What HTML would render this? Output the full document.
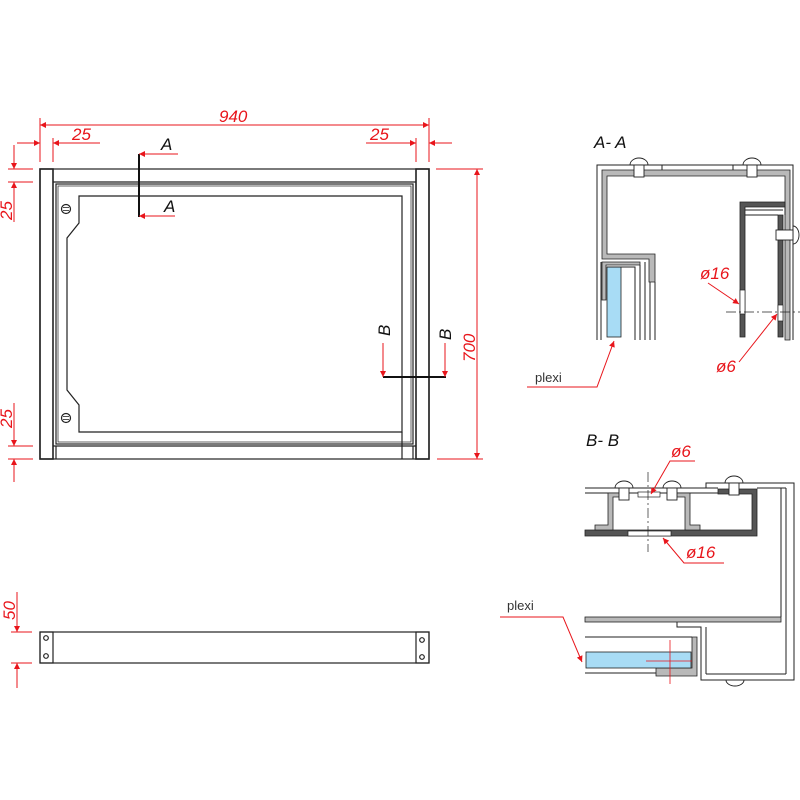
<!DOCTYPE html>
<html><head><meta charset="utf-8"><style>
html,body{margin:0;padding:0;background:#fff;width:800px;height:800px;overflow:hidden}
svg{display:block}
.r{fill:#e8151b;font-family:"Liberation Sans",sans-serif;font-style:italic;font-size:17px}
.k{fill:#111;font-family:"Liberation Sans",sans-serif;font-style:italic;font-size:17px}
</style></head><body>
<svg width="800" height="800" viewBox="0 0 800 800" xmlns="http://www.w3.org/2000/svg">
<defs>
<marker id="ar" viewBox="0 0 10 10" refX="10" refY="5" markerWidth="12" markerHeight="6" orient="auto-start-reverse" markerUnits="userSpaceOnUse"><path d="M0,0 L10,5 L0,10 z" fill="#e8151b"/></marker>
</defs>
<g fill="none" stroke="#222" stroke-width="1.2">
<rect x="40" y="169" width="389" height="290"/>
<rect x="40" y="169" width="13" height="290" stroke-width="1.6"/>
<rect x="416" y="169" width="13" height="290" stroke-width="1.6"/>
<line x1="53" y1="182" x2="416" y2="182"/>
<rect x="56" y="184" width="357" height="260"/>
<rect x="58" y="186" width="353" height="256" stroke-width="0.7"/>
<line x1="53" y1="446" x2="416" y2="446"/>
<line x1="56" y1="446" x2="56" y2="459"/>
<line x1="413" y1="446" x2="413" y2="459"/>
<path d="M79,196 L402,196 L402,432 L79,432 L79,405 L67,390 L67,238 L79,223 Z"/>
<line x1="402" y1="432" x2="402" y2="459"/>
<circle cx="66" cy="209" r="4.5"/><circle cx="66" cy="418" r="4.5"/>
<line x1="63" y1="207.5" x2="69" y2="207.5" stroke-width="0.8"/><line x1="63" y1="210.5" x2="69" y2="210.5" stroke-width="0.8"/>
<line x1="63" y1="416.5" x2="69" y2="416.5" stroke-width="0.8"/><line x1="63" y1="419.5" x2="69" y2="419.5" stroke-width="0.8"/>
</g>
<line x1="139" y1="154" x2="139" y2="217" stroke="#111" stroke-width="2"/>
<line x1="383" y1="377" x2="446" y2="377" stroke="#111" stroke-width="2"/>
<g stroke="#e8151b" stroke-width="1" fill="none">
<line x1="178" y1="154" x2="139" y2="154" marker-end="url(#ar)"/>
<line x1="175" y1="216" x2="139" y2="216" marker-end="url(#ar)"/>
<line x1="383" y1="343" x2="383" y2="377" marker-end="url(#ar)"/>
<line x1="445" y1="343" x2="445" y2="377" marker-end="url(#ar)"/>
<line x1="40" y1="118" x2="40" y2="162"/><line x1="429" y1="118" x2="429" y2="162"/>
<line x1="53" y1="138" x2="53" y2="162"/><line x1="416" y1="138" x2="416" y2="162"/>
<line x1="40" y1="125" x2="429" y2="125" marker-start="url(#ar)" marker-end="url(#ar)"/>
<line x1="17" y1="143" x2="40" y2="143" marker-end="url(#ar)"/>
<line x1="100" y1="143" x2="53" y2="143" marker-end="url(#ar)"/>
<line x1="366" y1="143" x2="416" y2="143" marker-end="url(#ar)"/>
<line x1="452" y1="143" x2="429" y2="143" marker-end="url(#ar)"/>
<line x1="8" y1="169" x2="33" y2="169"/><line x1="8" y1="182" x2="33" y2="182"/>
<line x1="14" y1="145" x2="14" y2="169" marker-end="url(#ar)"/>
<line x1="14" y1="222" x2="14" y2="182" marker-end="url(#ar)"/>
<line x1="8" y1="446" x2="33" y2="446"/><line x1="8" y1="459" x2="33" y2="459"/>
<line x1="14" y1="403" x2="14" y2="446" marker-end="url(#ar)"/>
<line x1="14" y1="482" x2="14" y2="459" marker-end="url(#ar)"/>
<line x1="436" y1="169" x2="483" y2="169"/><line x1="437" y1="459" x2="483" y2="459"/>
<line x1="477" y1="169" x2="477" y2="459" marker-start="url(#ar)" marker-end="url(#ar)"/>
<line x1="11" y1="632" x2="32" y2="632"/><line x1="11" y1="663" x2="32" y2="663"/>
<line x1="17" y1="592" x2="17" y2="632" marker-end="url(#ar)"/>
<line x1="17" y1="688" x2="17" y2="663" marker-end="url(#ar)"/>
</g>
<text class="r" x="219" y="122">940</text>
<text class="r" x="72" y="140">25</text>
<text class="r" x="370" y="140">25</text>
<text class="r" transform="translate(12,220) rotate(-90)">25</text>
<text class="r" transform="translate(12,428) rotate(-90)">25</text>
<text class="r" transform="translate(475,362) rotate(-90)">700</text>
<text class="r" transform="translate(15,620) rotate(-90)">50</text>
<text class="k" x="161" y="150">A</text>
<text class="k" x="164" y="212">A</text>
<text class="k" transform="translate(390,336) rotate(-90)">B</text>
<text class="k" transform="translate(451,340) rotate(-90)">B</text>
<g fill="none" stroke="#222" stroke-width="1.2">
<rect x="40" y="632" width="389" height="31"/>
<rect x="40" y="632" width="13" height="31"/>
<rect x="416" y="632" width="13" height="31"/>
<circle cx="46" cy="638" r="2.3"/><circle cx="46" cy="656" r="2.3"/>
<circle cx="422" cy="640" r="2.3"/><circle cx="422" cy="657" r="2.3"/>
</g>
<text class="k" x="594" y="148">A- A</text>
<g stroke="#222" stroke-width="1" fill="none">
<path d="M597,340 L597,165 L793,165 L793,340"/>
<path d="M601,340 L601,262"/>
</g>
<path d="M602,259 L602,170 L790,170 L790,340 L785,340 L785,176 L607,176 L607,254 L655,254 L655,282 L649,282 L649,259 Z" fill="#b9b9b9" stroke="#222" stroke-width="0.8"/>
<path d="M602,262 L640,262 L640,265 L606,265 L606,300 L602,300 Z" fill="#b9b9b9" stroke="#222" stroke-width="0.8"/>
<rect x="607" y="267" width="14" height="70" fill="#a8dcf5" stroke="#222" stroke-width="0.8"/>
<g stroke="#222" stroke-width="1" fill="none">
<path d="M607,267 L635,267 L635,340"/>
<line x1="640" y1="265" x2="640" y2="340"/><line x1="645" y1="262" x2="645" y2="340"/>
<line x1="650" y1="282" x2="650" y2="340"/><line x1="655" y1="282" x2="655" y2="340"/>
<line x1="662" y1="165" x2="662" y2="170"/><line x1="733" y1="165" x2="733" y2="170"/>
</g>
<path d="M740,337 L740,202 L785,202 L785,207 L745,207 L745,337 Z" fill="#555" stroke="#222" stroke-width="0.8"/>
<path d="M778,337 L778,215 L783,215 L783,337 Z" fill="#555" stroke="#222" stroke-width="0.8"/>
<g stroke="#222" stroke-width="1" fill="none">
<line x1="745" y1="210" x2="783" y2="210"/><line x1="745" y1="215" x2="778" y2="215"/>
<line x1="785" y1="207" x2="785" y2="215"/>
</g>
<rect x="740" y="290" width="5" height="24" fill="#fff" stroke="#222" stroke-width="0.7"/>
<rect x="778" y="305" width="5" height="16" fill="#fff" stroke="#222" stroke-width="0.7"/>
<line x1="726" y1="312" x2="800" y2="312" stroke="#222" stroke-width="0.7" stroke-dasharray="10,3,2,3"/>
<g stroke="#222" stroke-width="0.9" fill="#fff">
<path d="M630,165 A9,7 0 0 1 648,165 Z"/><rect x="634" y="165" width="10" height="12"/>
<path d="M743,165 A9,7 0 0 1 761,165 Z"/><rect x="747" y="165" width="10" height="12"/>
<path d="M793,226 A6,9 0 0 1 793,244 Z"/><rect x="776" y="230" width="17" height="10"/>
</g>
<text class="r" x="700" y="279">ø16</text>
<text class="r" x="716" y="372">ø6</text>
<text x="535" y="382" font-family="Liberation Sans,sans-serif" font-size="13" fill="#333">plexi</text>
<g stroke="#e8151b" stroke-width="1" fill="none">
<path d="M708,283 L739,304" marker-end="url(#ar)"/>
<path d="M739,362 L777,314" marker-end="url(#ar)"/>
<path d="M527,387 L597,387 L614,341" marker-end="url(#ar)"/>
</g>
<text class="k" x="586" y="446">B- B</text>
<g stroke="#222" stroke-width="1" fill="none">
<line x1="585" y1="488" x2="718" y2="488"/><line x1="585" y1="493" x2="718" y2="493"/>
<path d="M706,488 L706,483 L794,483 L794,680 L701,680 L701,627 L677,627 L677,622"/>
<line x1="781" y1="488" x2="781" y2="617"/><line x1="786" y1="488" x2="786" y2="674"/>
<path d="M757,488 L786,488"/>
<path d="M706,674 L786,674 M706,627 L706,674"/>
<line x1="585" y1="637" x2="692" y2="637"/>
<line x1="585" y1="673" x2="657" y2="673"/>
</g>
<path d="M718,489 L757,489 L757,536 L585,536 L585,530 L752,530 L752,494 L718,494 Z" fill="#555" stroke="#222" stroke-width="0.8"/>
<path d="M595,530 L595,525 L608,525 L608,493 L625,493 L625,497 L613,497 L613,530 Z" fill="#b9b9b9" stroke="#222" stroke-width="0.8"/>
<path d="M700,530 L700,525 L690,525 L690,493 L672,493 L672,497 L685,497 L685,530 Z" fill="#b9b9b9" stroke="#222" stroke-width="0.8"/>
<rect x="628" y="531" width="43" height="5" fill="#fff" stroke="#222" stroke-width="0.7"/>
<rect x="638" y="492" width="22" height="5" fill="#fff" stroke="#222" stroke-width="0.7"/>
<line x1="648" y1="472" x2="648" y2="552" stroke="#222" stroke-width="0.7" stroke-dasharray="10,3,2,3"/>
<rect x="585" y="617" width="196" height="5" fill="#b9b9b9" stroke="#222" stroke-width="0.8"/>
<path d="M692,637 L697,637 L697,676 L656,676 L656,668 L692,668 Z" fill="#b9b9b9" stroke="#222" stroke-width="0.8"/>
<rect x="586" y="652" width="105" height="16" fill="#a8dcf5" stroke="#222" stroke-width="0.8"/>
<g stroke="#e8151b" stroke-width="0.8"><line x1="670" y1="640" x2="670" y2="684"/><line x1="646" y1="661" x2="692" y2="661"/></g>
<g stroke="#222" stroke-width="0.9" fill="#fff">
<path d="M615,488 A9,7 0 0 1 633,488 Z"/><rect x="619" y="488" width="10" height="12"/>
<path d="M663,488 A9,7 0 0 1 681,488 Z"/><rect x="667" y="488" width="10" height="12"/>
<path d="M725,483 A9,7 0 0 1 743,483 Z"/><rect x="729" y="483" width="10" height="12"/>
<path d="M726,680 A9,6 0 0 0 744,680 Z"/>
</g>
<text class="r" x="671" y="457">ø6</text>
<text class="r" x="686" y="558">ø16</text>
<text x="507" y="610" font-family="Liberation Sans,sans-serif" font-size="13" fill="#333">plexi</text>
<g stroke="#e8151b" stroke-width="1" fill="none">
<path d="M695,461 L670,461 L651,494" marker-end="url(#ar)"/>
<path d="M724,563 L684,563 L663,538" marker-end="url(#ar)"/>
<path d="M500,617 L563,617 L582,662" marker-end="url(#ar)"/>
</g>
</svg>
</body></html>
